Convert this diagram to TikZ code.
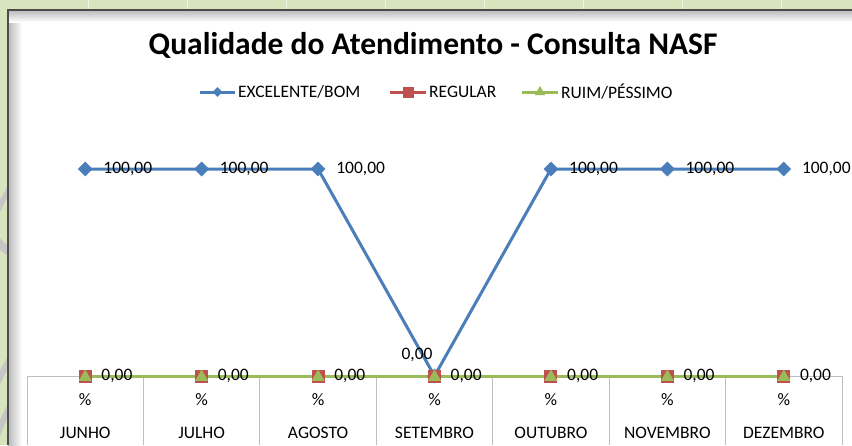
\documentclass[tikz,border=0pt]{standalone}
\usepackage{fontspec}
\setmainfont{Carlito}
\usetikzlibrary{shapes.geometric,positioning}

\definecolor{exccol}{RGB}{74,126,187}
\definecolor{regcol}{RGB}{192,80,77}
\definecolor{ruicol}{RGB}{155,187,89}
\definecolor{fundo}{RGB}{215,228,189}
\definecolor{eixo}{RGB}{191,191,191}

\tikzset{
  rotulo/.style={font=\fontsize{17.5}{17.5}\selectfont, inner sep=0pt},
  losango/.style={diamond, fill=exccol, inner sep=0pt, minimum size=15pt},
  quadrado/.style={rectangle, fill=regcol, inner sep=0pt, minimum size=13pt},
  triangulo/.style={regular polygon, regular polygon sides=3, fill=ruicol, inner sep=0pt, minimum size=15pt},
  serie/.style={line width=3pt},
}

\begin{document}
\begin{tikzpicture}[x=1pt,y=-1pt]
  \useasboundingbox (0,0) rectangle (852,445);

  % planilha ao fundo
  \fill[fundo] (0,0) rectangle (852,445);
  \foreach \gx in {88,187,...,782}
    \draw[white!60!fundo] (\gx,0) -- (\gx,10);
  \fill[gray!45] (0,200) -- (8,185) -- (8,196) -- (0,212) -- cycle;
  \fill[gray!45] (0,238) -- (8,246) -- (8,256) -- (0,250) -- cycle;
  \fill[gray!45] (0,370) -- (8,356) -- (8,368) -- (0,384) -- cycle;
  \fill[gray!45] (0,420) -- (8,403) -- (8,416) -- (0,436) -- cycle;

  % area do grafico
  \fill[white] (8,10) rectangle (852,445);
  \shade[left color=gray!55, right color=white] (8,10) rectangle (22,445);
  \shade[top color=gray!55, bottom color=white] (8,10) rectangle (852,22);
  \draw[black!70, line width=2pt] (8,445) -- (8,10) -- (852,10);

  \node[font=\bfseries\fontsize{31.5}{31.5}\selectfont] (titulo) at (433,45) {Qualidade do Atendimento - Consulta NASF};

  % legenda
  \coordinate (legexcA) at (200,92);
  \node[rotulo, anchor=west] (legexc) at (238,92) {EXCELENTE/BOM};
  \coordinate (legregA) at (390,92);
  \node[rotulo, anchor=west] (legreg) at (429,92) {REGULAR};
  \coordinate (legruiA) at (522,92);
  \node[rotulo, anchor=west] (legrui) at (561,92) {RUIM/PÉSSIMO};
  \draw[exccol, serie] (legexcA) -- ([xshift=-3pt]legexc.west) node[midway, losango, minimum size=11pt] (legexcM) {};
  \draw[regcol, serie] (legregA) -- ([xshift=-3pt]legreg.west) node[midway, quadrado, minimum size=11pt] (legregM) {};
  \draw[ruicol, serie] (legruiA) -- ([xshift=-3pt]legrui.west) node[midway, triangulo, minimum size=12pt] (legruiM) {};

  % eixo das categorias
  \draw[eixo, thick] (27,376) -- (842,376);
  \foreach \k in {0,...,7}
    \draw[eixo, thick] ({27+116.43*\k},376) -- ({27+116.43*\k},445);
  \foreach \mes [count=\i] in {JUNHO,JULHO,AGOSTO,SETEMBRO,OUTUBRO,NOVEMBRO,DEZEMBRO} {
    \node[rotulo] (pct\i) at ({27+116.43*(\i-0.5)},400) {\%};
    \node[rotulo] (mes\i) at ({27+116.43*(\i-0.5)},433) {\mes};
  }

  % pontos das series
  \foreach \v [count=\i] in {100,100,100,0,100,100,100} {
    \coordinate (e\i) at ({27+116.43*(\i-0.5)},{376-2.07*\v});
    \coordinate (r\i) at ({27+116.43*(\i-0.5)},376);
    \coordinate (g\i) at ({27+116.43*(\i-0.5)},376);
  }

  \draw[exccol, serie] (e1) foreach \i in {2,...,7} {-- (e\i)};
  \draw[regcol, serie] (r1) foreach \i in {2,...,7} {-- (r\i)};
  \draw[ruicol, serie] (g1) foreach \i in {2,...,7} {-- (g\i)};

  \foreach \i in {1,...,7} {
    \node[losango] (me\i) at (e\i) {};
    \node[quadrado] (mr\i) at (r\i) {};
    \node[triangulo] (mg\i) at ([yshift=-1pt]g\i) {};
  }

  % rotulos de dados
  \foreach \i in {1,2,3,5,6,7}
    \node[rotulo, right=18pt of e\i] (le\i) {100,00};
  \node[rotulo] (le4) at (417,355) {0,00};
  \foreach \i in {1,...,7}
    \node[rotulo, right=16pt of g\i] (lg\i) {0,00};
\end{tikzpicture}
\end{document}
